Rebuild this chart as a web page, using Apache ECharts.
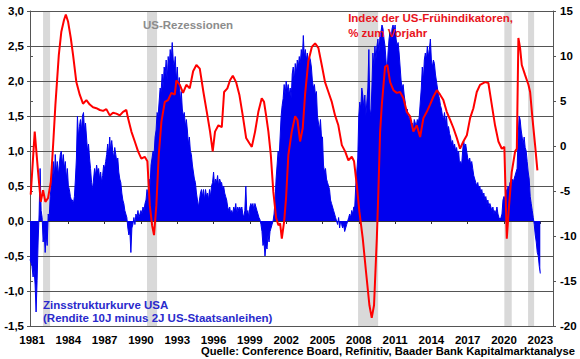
<!DOCTYPE html>
<html><head><meta charset="utf-8">
<script src="https://cdn.jsdelivr.net/npm/echarts@6/dist/echarts.min.js"></script>
<style>html,body{margin:0;padding:0;background:#fff}#c{width:580px;height:359px}</style>
</head><body><div id="c"></div>
<script>
// ---------- DATA ----------
const xTickYears = [1981,1984,1987,1990,1993,1996,1999,2002,2005,2008,2011,2014,2017,2020,2023];
const leftTicks = [-1.5,-1.0,-0.5,0,0.5,1.0,1.5,2.0,2.5,3.0];
const rightTicks = [-20,-15,-10,-5,0,5,10,15];
// recession periods (decimal years, start/end)
const recessionStart = [1981.91, 1990.50, 2007.94, 2020.03, 2021.99];
const recessionEnd   = [1982.49, 1991.33, 2009.60, 2020.64, 2022.49];
// 10Y minus 2Y US treasury spread, monthly from Nov 1980 (%-points)
const spreadStartYear = 1980 + 10/12;
const spreadValues = [
 -0.55,-0.6,
 -0.65,-0.8,-0.7,-0.9,-1.3,-0.85,-0.3,0.1,0.75,0.15,0.05,-0.3,
 -0.15,-0.45,-0.2,-0.35,0.1,0.05,0.35,0.5,0.7,0.85,0.6,0.95,
 0.7,0.85,0.65,0.8,0.95,1.0,0.8,0.95,0.75,0.85,0.6,0.75,
 0.5,0.45,0.35,0.3,0.3,0.25,0.35,0.6,0.9,1.5,1.2,1.35,
 1.45,1.3,1.5,1.55,1.3,1.4,1.2,1.0,1.1,0.9,0.75,0.55,
 0.45,0.6,0.75,0.65,0.8,0.7,0.75,0.6,0.7,0.55,0.65,0.8,
 0.75,0.85,0.95,1.1,0.95,1.2,1.0,1.15,1.0,0.9,1.05,0.95,
 0.85,0.9,0.7,0.6,0.55,0.4,0.3,0.25,0.15,0.1,0.05,-0.1,
 -0.2,-0.15,-0.45,-0.1,-0.05,0.05,-0.05,0.1,0.05,0.15,0.05,0.1,
 0.15,0.1,0.2,0.15,0.25,0.3,0.45,0.35,0.6,0.5,0.8,0.9,
 1.0,0.95,1.2,1.3,1.55,1.5,1.7,1.9,1.85,2.1,1.9,2.2,
 2.1,2.3,2.0,2.35,2.2,2.45,2.3,2.55,2.3,2.2,2.35,2.0,
 2.2,1.9,2.05,1.7,1.85,1.6,1.5,1.55,1.35,1.45,1.3,1.1,
 1.2,1.0,0.95,0.8,0.7,0.6,0.55,0.4,0.3,0.2,0.3,0.4,
 0.45,0.35,0.45,0.3,0.45,0.35,0.4,0.3,0.45,0.35,0.5,0.55,
 0.7,0.5,0.6,0.55,0.65,0.5,0.6,0.55,0.55,0.45,0.5,0.4,
 0.35,0.3,0.2,0.15,0.2,0.1,0.15,0.1,0.2,0.15,0.25,0.1,
 0.2,0.15,0.2,0.15,0.2,0.1,0.05,0.15,0.5,0.1,0.15,0.05,
 0.2,0.25,0.2,0.25,0.15,0.25,0.2,0.15,0.1,0.05,0.02,-0.05,
 -0.15,-0.35,-0.3,-0.5,-0.35,-0.4,-0.2,-0.3,-0.15,-0.1,-0.05,0.0,
 0.1,0.3,0.6,0.8,1.0,0.9,1.2,1.5,1.65,1.75,1.95,1.8,
 2.0,1.85,1.95,1.8,1.9,1.75,2.1,2.2,2.0,2.25,2.1,2.3,
 2.2,2.35,2.25,2.45,2.3,2.65,2.35,2.45,2.3,2.4,2.2,2.35,
 2.3,2.2,2.0,1.9,1.95,1.8,1.85,1.5,1.4,1.3,1.45,1.2,
 1.2,0.8,0.7,0.75,0.6,0.55,0.5,0.45,0.3,0.25,0.2,0.15,
 0.1,0.05,0.0,-0.05,0.05,-0.1,0.0,-0.05,-0.1,-0.05,-0.15,-0.1,
 -0.05,0.0,0.05,0.1,0.05,0.15,0.1,0.2,0.2,0.5,0.7,0.9,
 1.5,1.7,1.6,1.9,1.8,1.6,1.8,1.5,1.7,1.9,2.45,1.6,
 1.5,1.9,2.4,2.2,2.5,2.3,2.5,2.6,2.4,2.65,2.7,2.8,
 2.75,2.6,2.5,2.3,2.1,2.4,2.6,2.7,2.6,2.75,2.8,2.7,
 2.8,2.6,2.5,2.55,2.4,2.2,2.0,1.9,1.95,1.8,1.7,1.5,
 1.6,1.5,1.45,1.5,1.35,1.4,1.3,1.45,1.4,1.35,1.45,1.4,
 1.5,1.7,1.9,2.2,2.0,2.3,2.4,2.3,2.5,2.35,2.45,2.6,
 2.3,2.2,2.3,2.25,2.1,2.0,1.9,1.8,1.75,1.65,1.6,1.5,
 1.45,1.55,1.4,1.5,1.3,1.35,1.25,1.2,1.1,1.15,1.05,1.1,
 1.0,1.05,0.95,1.0,0.8,0.85,0.8,1.0,1.15,1.05,1.1,1.0,
 0.9,0.85,0.9,0.8,0.85,0.75,0.65,0.6,0.55,0.5,0.55,0.45,
 0.5,0.4,0.45,0.35,0.4,0.3,0.35,0.25,0.3,0.2,0.25,0.2,
 0.15,0.2,0.1,0.15,0.1,0.2,0.1,0.05,0.02,0.05,0.1,0.3,
 0.35,0.3,0.45,0.4,0.5,0.45,0.55,0.5,0.6,0.55,0.6,0.65,
 0.7,0.75,1.2,1.5,1.45,1.3,1.2,1.1,1.2,1.05,1.0,0.85,
 0.7,0.6,0.35,0.25,0.15,0.05,-0.05,-0.2,-0.3,-0.45,-0.5,-0.65,
 -0.75
];
// Conference Board Leading Economic Index, % y/y
const leiDates = [1980.89,1981.22,1981.50,1981.72,1981.91,1982.10,1982.32,1982.55,1982.74,1982.93,1983.21,1983.42,1983.64,1983.79,1983.98,1984.20,1984.39,1984.66,1984.94,1985.21,1985.49,1985.77,1986.04,1986.31,1986.60,1986.87,1987.14,1987.42,1987.69,1987.97,1988.25,1988.52,1988.79,1988.93,1989.21,1989.49,1989.76,1990.03,1990.31,1990.53,1990.73,1990.92,1991.08,1991.27,1991.47,1991.69,1991.97,1992.24,1992.51,1992.79,1992.93,1993.21,1993.48,1993.75,1994.03,1994.31,1994.58,1994.86,1995.16,1995.44,1995.71,1995.93,1996.12,1996.40,1996.68,1996.87,1997.14,1997.36,1997.59,1997.86,1998.13,1998.41,1998.69,1998.96,1999.16,1999.43,1999.70,1999.98,2000.17,2000.34,2000.53,2000.73,2000.94,2001.17,2001.36,2001.50,2001.64,2001.83,2001.99,2002.18,2002.46,2002.74,2002.93,2003.15,2003.37,2003.56,2003.83,2004.12,2004.39,2004.66,2004.94,2005.21,2005.49,2005.77,2006.04,2006.31,2006.60,2006.87,2007.14,2007.42,2007.61,2007.83,2008.05,2008.33,2008.60,2008.88,2009.07,2009.26,2009.49,2009.62,2009.76,2009.90,2010.17,2010.36,2010.59,2010.86,2011.14,2011.41,2011.69,2011.97,2012.24,2012.51,2012.79,2013.07,2013.34,2013.62,2013.89,2014.17,2014.45,2014.72,2014.99,2015.27,2015.55,2015.82,2016.10,2016.37,2016.64,2016.93,2017.20,2017.47,2017.75,2018.02,2018.44,2018.71,2018.99,2019.26,2019.54,2019.82,2020.03,2020.23,2020.42,2020.64,2020.92,2021.06,2021.19,2021.33,2021.47,2021.74,2022.02,2022.16,2022.35,2022.57,2022.76];
const leiValues = [-5.4,1.6,-2.9,-6.2,-4.9,-6.2,-5.8,-4.0,0.1,4.6,10.1,12.7,14.0,14.6,13.8,12.0,10.1,7.1,5.7,4.7,5.1,4.6,4.3,4.2,4.0,3.9,4.1,3.4,3.7,3.6,3.4,3.8,4.0,3.1,1.6,0.5,-0.6,-1.4,-1.2,-1.7,-6.6,-8.8,-9.9,-6.6,-1.0,2.7,4.9,5.1,5.9,5.7,7.3,6.8,5.9,6.8,6.4,8.3,9.0,8.6,6.0,3.8,1.6,-0.6,1.6,2.3,2.1,6.0,6.4,7.3,7.8,7.1,5.7,3.4,0.9,0.3,-0.1,1.6,3.8,5.3,4.9,3.4,1.6,-1.0,-5.1,-8.0,-8.8,-8.6,-10.3,-8.4,-5.8,-1.0,1.6,3.3,2.9,0.5,2.0,5.7,9.4,11.0,11.4,10.9,9.0,7.1,6.0,4.9,3.4,2.3,0.1,-0.6,-1.6,-1.2,-1.7,-4.3,-7.3,-10.3,-14.0,-17.7,-19.1,-17.7,-10.3,-5.0,1.5,4.5,8.8,9.0,7.1,6.2,5.9,6.0,5.3,3.8,3.3,1.6,2.3,1.0,3.1,3.8,4.6,5.5,6.2,5.7,5.1,3.8,2.9,2.0,0.9,-0.3,0.5,1.2,3.1,4.2,6.0,6.8,7.1,7.0,4.6,2.3,0.5,-0.3,-0.1,-10.3,-6.6,-2.9,-0.6,-0.3,12.0,10.9,9.0,7.9,6.8,6.0,3.1,0.1,-2.7];

// ---------- TEXT ----------
const txtRecession = 'US-Rezessionen';
const txtLei = ['Index der US-Frühindikatoren,', '% zum Vorjahr'];
const txtSpread = ['Zinsstrukturkurve USA', '(Rendite 10J minus 2J US-Staatsanleihen)'];
const txtSource = 'Quelle: Conference Board, Refinitiv, Baader Bank Kapitalmarktanalyse';

// ---------- CHART ----------
const FONT = '"Liberation Sans", Arial, sans-serif';
const XMIN = 1980.83, XMAX = 2024.05;
const YMIN = -1.5, YMAX = 3;
const spreadData = spreadValues.map((v, i) => [spreadStartYear + i / 12, v]);
const leiData = leiDates.map((d, i) => [d, leiValues[i]]);
const recessionData = recessionStart.map((s, i) => [s, recessionEnd[i]]);
const lblStyle = { fontFamily: FONT, fontWeight: 'bold', fontSize: 11.5, color: '#000' };

const chart = echarts.init(document.getElementById('c'), null, { renderer: 'svg' });
chart.setOption({
  animation: false,
  backgroundColor: '#fff',
  grid: { left: 30, right: 27, top: 11, bottom: 33 },
  xAxis: [
    { type: 'value', min: XMIN, max: XMAX, position: 'bottom',
      axisLine: { show: false, onZero: false }, axisTick: { show: false }, splitLine: { show: false },
      axisLabel: Object.assign({ customValues: xTickYears, margin: 8, formatter: v => String(Math.round(v)) }, lblStyle) },
    { type: 'value', min: XMIN, max: XMAX, position: 'top',
      axisLine: { show: true, onZero: true, onZeroAxisIndex: 0, lineStyle: { color: '#333', width: 1 } },
      axisTick: { show: true, inside: true, length: 3, customValues: xTickYears, lineStyle: { color: '#333' } },
      axisLabel: { show: false }, splitLine: { show: false } }
  ],
  yAxis: [
    { type: 'value', min: YMIN, max: YMAX, interval: 0.5, position: 'left',
      axisLine: { show: true, lineStyle: { color: '#555' } },
      axisTick: { show: true, length: 3, lineStyle: { color: '#555' } },
      splitLine: { show: true, lineStyle: { color: '#555', width: 1 } },
      axisLabel: Object.assign({ margin: 6, formatter: v => v.toFixed(1).replace('.', ',') }, lblStyle) },
    { type: 'value', min: -20, max: 15, interval: 5, position: 'right',
      axisLine: { show: true, lineStyle: { color: '#555' } },
      axisTick: { show: true, length: 3, lineStyle: { color: '#555' } },
      splitLine: { show: false },
      axisLabel: Object.assign({ margin: 7 }, lblStyle) },
    { type: 'value', min: -20, max: 15, interval: 5, position: 'left',
      axisLine: { show: false }, axisLabel: { show: false }, splitLine: { show: false },
      axisTick: { show: true, inside: true, length: 3, lineStyle: { color: '#555' } } }
  ],
  graphic: [
    { type: 'text', left: 143, top: 19, silent: true, z: 100,
      style: { text: txtRecession, font: 'bold 11.5px ' + FONT, fill: '#8c8c8c' } },
    { type: 'text', right: 67, top: 10, silent: true, z: 100,
      style: { text: txtLei.join('\n'), font: 'bold 11.5px ' + FONT, fill: '#e8141c', align: 'right', lineHeight: 15 } },
    { type: 'text', left: 43, top: 298, silent: true, z: 100,
      style: { text: txtSpread.join('\n'), font: 'bold 11.5px ' + FONT, fill: '#2a2acc', lineHeight: 13 } },
    { type: 'text', right: 5, top: 345, silent: true, z: 100,
      style: { text: txtSource, font: 'bold 11.2px ' + FONT, fill: '#000' } }
  ],
  series: [
    { type: 'custom', name: 'US-Rezessionen', xAxisIndex: 0, yAxisIndex: 0, z: -1, silent: true,
      data: recessionData, encode: { x: [0, 1] },
      renderItem: (params, api) => {
        const p0 = api.coord([api.value(0), YMAX]);
        const p1 = api.coord([api.value(1), YMIN]);
        return { type: 'rect', shape: { x: p0[0], y: p0[1], width: p1[0] - p0[0], height: p1[1] - p0[1] },
                 style: { fill: '#d9d9d9' } };
      } },
    { type: 'line', name: 'Zinsstrukturkurve', xAxisIndex: 0, yAxisIndex: 0, data: spreadData,
      showSymbol: false, symbol: 'none', z: 3,
      lineStyle: { color: '#0000ee', width: 1 }, areaStyle: { color: '#0000ee', opacity: 1, origin: 0 } },
    { type: 'line', name: 'Frühindikatoren', xAxisIndex: 0, yAxisIndex: 1, data: leiData,
      showSymbol: false, symbol: 'none', z: 4,
      lineStyle: { color: '#ff0000', width: 2 } }
  ]
});
</script></body></html>
